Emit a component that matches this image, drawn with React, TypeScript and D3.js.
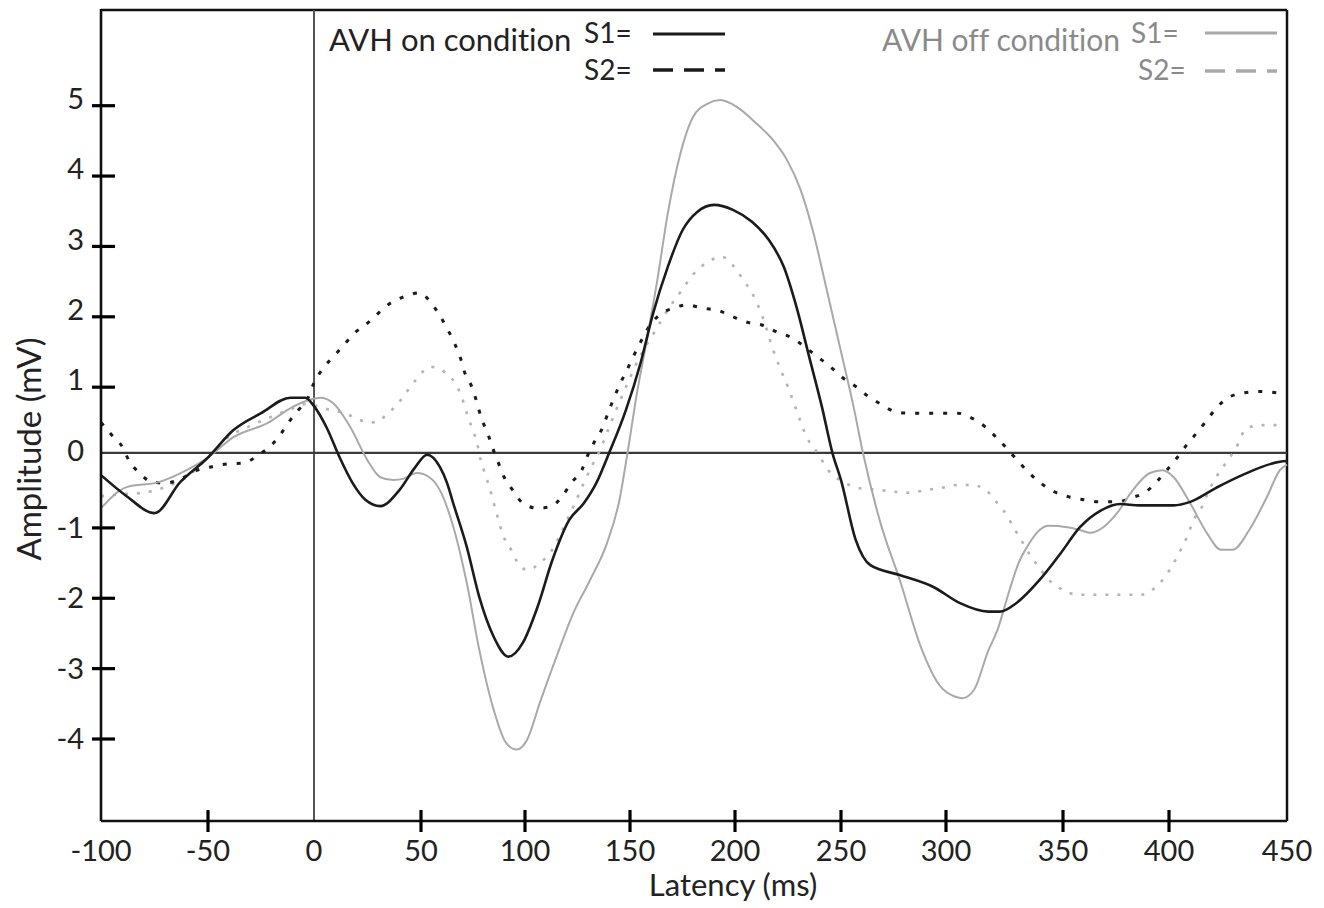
import React from "react";
import * as d3 from "d3";

// ---- data (latency ms, amplitude mV) ----
const onS1: [number, number][] = [
  [-100, -0.25], [-88, -0.55], [-75, -0.79], [-63, -0.35], [-50, 0.0], [-38, 0.39], [-25, 0.63],
  [-11, 0.85], [-4, 0.85], [0, 0.73], [6, 0.42], [12, 0.0], [18, -0.36], [24, -0.6], [31, -0.69],
  [40, -0.46], [47, -0.15], [53, 0.04], [59, -0.13], [62.5, -0.36], [65.5, -0.65], [72, -1.27],
  [78, -1.98], [85, -2.55], [92, -2.83], [99, -2.63], [106, -2.12], [113, -1.46], [121, -0.89],
  [128, -0.65], [134, -0.36], [140, 0.06], [148, 0.67], [155, 1.34], [161, 2.05], [168, 2.71],
  [175, 3.23], [182, 3.49], [190, 3.59], [199, 3.52], [208, 3.35], [216, 3.09], [223, 2.71],
  [229, 2.14], [235, 1.43], [241, 0.72], [246, 0.06], [250, -0.32], [257, -1.17], [264, -1.53],
  [278, -1.67], [294, -1.84], [306, -2.07], [318, -2.19], [323, -2.19], [330, -2.07], [340, -1.74],
  [349, -1.36], [358, -0.99], [368, -0.75], [377, -0.66], [386, -0.68], [402, -0.68], [409, -0.63],
  [420, -0.43], [431, -0.25], [447, -0.06], [450, -0.05],
];

const onS2: [number, number][] = [
  [-100, 0.5], [-95, 0.32], [-90, 0.15], [-87, -0.04], [-82, -0.22], [-76, -0.35], [-69, -0.36],
  [-62, -0.29], [-55, -0.18], [-48, -0.13], [-41, -0.09], [-33.5, -0.08], [-26, 0.04], [-21, 0.15],
  [-16, 0.32], [-12, 0.5], [-7.5, 0.67], [-3.3, 0.82], [0, 1.06], [4, 1.26], [9, 1.43], [14, 1.6],
  [19, 1.77], [25, 1.91], [30, 2.05], [35.5, 2.19], [41.5, 2.28], [49.5, 2.34], [55, 2.19],
  [59, 2.02], [63, 1.81], [66, 1.63], [69, 1.41], [71, 1.21], [74.5, 1.0], [77, 0.77], [79, 0.56],
  [82, 0.35], [84.5, 0.13], [87, -0.06], [90, -0.28], [94, -0.46], [99, -0.65], [106, -0.72],
  [112, -0.7], [117.5, -0.56], [122, -0.36], [127, -0.18], [130, 0.04], [133, 0.22], [137, 0.43],
  [139.5, 0.63], [142, 0.82], [145, 1.03], [148.5, 1.24], [151.5, 1.43], [155, 1.64], [160, 1.9],
  [165, 2.05], [170.5, 2.12], [177, 2.17], [185, 2.12], [192, 2.09], [199, 2.0], [206, 1.92],
  [213, 1.88], [220, 1.78], [227, 1.7], [233, 1.57], [239, 1.43], [245, 1.29], [251, 1.13],
  [257.5, 1.0], [262, 0.89], [269.5, 0.75], [276, 0.65], [283, 0.63], [291, 0.63], [298, 0.63],
  [305, 0.63], [311, 0.56], [317, 0.43], [322, 0.27], [326.5, 0.11], [331, -0.06], [335, -0.2],
  [340, -0.35], [346.5, -0.49], [353, -0.56], [360, -0.6], [367.5, -0.63], [375.5, -0.63],
  [382.5, -0.57], [389, -0.49], [394, -0.35], [399, -0.18], [403.5, 0.0], [407.5, 0.18], [412, 0.36],
  [416, 0.53], [420, 0.7], [425, 0.85], [432, 0.92], [438.5, 0.94], [446, 0.92],
];

const offS1: [number, number][] = [
  [-100, -0.72], [-88, -0.42], [-73, -0.35], [-60, -0.18], [-50, 0.0], [-38, 0.29], [-22, 0.49],
  [-10, 0.72], [-2, 0.82], [3, 0.85], [9, 0.77], [17, 0.43], [25, -0.04], [31, -0.28], [37, -0.32],
  [42, -0.3], [48, -0.22], [54, -0.28], [59, -0.46], [65, -0.93], [72, -1.78], [78, -2.73],
  [85, -3.59], [91, -4.06], [96, -4.15], [101, -4.01], [107, -3.49], [115, -2.83], [123, -2.21],
  [131, -1.74], [139, -1.22], [145, -0.6], [149, 0.1], [153, 0.86], [158, 1.67], [163, 2.52],
  [168, 3.47], [174, 4.32], [180, 4.84], [187, 5.03], [193, 5.08], [201, 4.98], [210, 4.75],
  [218, 4.51], [224.5, 4.23], [231, 3.8], [237, 3.19], [243, 2.42], [249.5, 1.57], [256, 0.72],
  [260.5, 0.06], [269, -0.95], [278, -1.74], [288, -2.69], [297, -3.24],
  [304, -3.4], [307, -3.42], [312, -3.3], [318, -2.75], [322, -2.45], [327, -1.9], [331, -1.5],
  [335, -1.25], [340, -1.03], [344, -0.97], [352, -0.99], [358, -1.03], [363, -1.07], [369, -0.99],
  [375.5, -0.79], [383, -0.46], [391, -0.22], [397, -0.18], [402, -0.28], [409, -0.65],
  [416, -1.07], [422, -1.31], [427, -1.31], [434, -1.03], [441.5, -0.56], [447, -0.18], [450, -0.1],
];

const offS2: [number, number][] = [
  [-100, -0.55], [-90, -0.52], [-80, -0.5], [-70, -0.42], [-60, -0.28], [-50, 0.0], [-40, 0.3],
  [-30, 0.45], [-20, 0.58], [-10, 0.7], [-4, 0.76], [0, 0.74], [7, 0.68], [14.5, 0.63], [21.5, 0.53],
  [28.5, 0.5], [34.6, 0.63], [39.3, 0.77], [44, 0.96], [48.6, 1.14], [54.3, 1.29], [61.5, 1.21],
  [66.3, 1.06], [69.7, 0.85], [72, 0.63], [74.5, 0.42], [77, 0.2], [78.4, 0.0], [81, -0.25],
  [83, -0.43], [85, -0.65], [87, -0.86], [89, -1.07], [93.3, -1.31], [96.2, -1.48], [101.4, -1.6],
  [107, -1.5], [113, -1.31], [116.7, -1.1], [120, -0.89], [123, -0.7], [126, -0.5], [128.6, -0.32],
  [132, -0.11], [135, 0.06], [141, 0.5], [148, 1.0], [155, 1.45], [162, 1.8], [168, 2.1],
  [174, 2.35], [180, 2.6], [187, 2.78], [194, 2.85], [199, 2.73], [204, 2.52], [208, 2.34],
  [213, 2.0], [218, 1.53], [221, 1.29], [225, 1.0], [229, 0.67], [234, 0.28], [239, 0.06],
  [244, -0.18], [252, -0.36], [258, -0.43], [268, -0.46], [283, -0.5], [291, -0.46], [298, -0.43],
  [305, -0.39], [311, -0.39], [318, -0.49], [322, -0.65], [326, -0.82], [329, -1.0], [333, -1.22],
  [336, -1.39], [340, -1.57], [344, -1.74], [350, -1.88], [357, -1.95], [365, -1.95], [372, -1.95],
  [379, -1.95], [387, -1.95], [393, -1.86], [398, -1.7], [402, -1.5], [405, -1.31], [408, -1.1],
  [410, -0.92], [414, -0.7], [417, -0.46], [420, -0.28], [424, -0.08], [428, 0.11], [433, 0.42],
  [440, 0.46], [446, 0.46],
];

const X_TICKS = [-100, -50, 0, 50, 100, 150, 200, 250, 300, 350, 400, 450];
const Y_TICKS = [5, 4, 3, 2, 1, 0, -1, -2, -3, -4];
const X_LABEL = "Latency (ms)";
const Y_LABEL = "Amplitude (mV)";
const LEGEND_ON = "AVH on condition";
const LEGEND_OFF = "AVH off condition";

// ---- layout ----
const W = 1324;
const H = 908;
const LEFT = 101;
const RIGHT = 1287;
const TOP = 10;
const BOTTOM = 821;
// the source figure's x tick marks are not evenly spaced; follow them
const X_TICK_PX = [101, 208, 314, 421, 525, 630, 735, 841, 946, 1063, 1169, 1287];
const BASELINE_MV = 0.065; // drawn zero line sits slightly above the 0 tick position

const FONT = "Lato, 'Open Sans', sans-serif";
const BLACK = "#1b1b1b";
const GREY = "#a9a9a9";
const GREY_TEXT = "#8a8a8a";

export default function App() {
  const x = d3.scaleLinear().domain(X_TICKS).range(X_TICK_PX);
  const y = d3.scaleLinear().domain([-4, 5]).range([739, 105.7]);

  const line = d3
    .line<[number, number]>()
    .x((d) => x(d[0]))
    .y((d) => y(d[1]))
    .curve(d3.curveMonotoneX);

  const y0 = y(BASELINE_MV);

  return (
    <svg
      width={W}
      height={H}
      style={{ position: "absolute", left: 0, top: 0, background: "#fff", fontVariantLigatures: "none" }}
      fontFamily={FONT}
    >
      <rect x={0} y={0} width={W} height={H} fill="#fff" />

      {/* frame */}
      <line x1={LEFT} x2={RIGHT} y1={TOP} y2={TOP} stroke="#111" strokeWidth={2.5} />
      <line x1={RIGHT} x2={RIGHT} y1={TOP} y2={BOTTOM} stroke="#111" strokeWidth={2.5} />

      {/* reference lines */}
      <line x1={x(0)} x2={x(0)} y1={TOP} y2={BOTTOM} stroke="#555" strokeWidth={2} />
      <line x1={LEFT} x2={RIGHT} y1={y0} y2={y0} stroke="#3a3a3a" strokeWidth={2.2} />

      {/* curves */}
      <path d={line(offS2) || ""} fill="none" stroke="#b4b4b4" strokeWidth={2.6} strokeDasharray="3 9" />
      <path d={line(onS2) || ""} fill="none" stroke={BLACK} strokeWidth={3} strokeDasharray="4 10" />
      <path d={line(offS1) || ""} fill="none" stroke={GREY} strokeWidth={2} />
      <path d={line(onS1) || ""} fill="none" stroke={BLACK} strokeWidth={2.6} />

      {/* axes */}
      <line x1={LEFT} x2={LEFT} y1={TOP - 1} y2={BOTTOM} stroke="#111" strokeWidth={2.6} />
      <line x1={LEFT} x2={RIGHT} y1={BOTTOM} y2={BOTTOM} stroke="#111" strokeWidth={2.6} />

      {Y_TICKS.map((v) => (
        <g key={"y" + v}>
          {v !== 0 && (
            <line x1={LEFT - 9} x2={LEFT + 14} y1={y(v)} y2={y(v)} stroke="#000" strokeWidth={3.2} />
          )}
          <text
            x={84}
            y={y(v) + (v >= 0 ? -7 : 0)}
            dy="0.35em"
            textAnchor="end"
            fontSize={29}
            fill="#222"
          >
            {v}
          </text>
        </g>
      ))}

      {X_TICKS.map((v, i) => (
        <g key={"x" + v}>
          {i > 0 && i < X_TICKS.length - 1 && v !== 0 && (
            <line x1={x(v)} x2={x(v)} y1={BOTTOM - 11} y2={BOTTOM + 11} stroke="#000" strokeWidth={3.2} />
          )}
          <text x={x(v)} y={861} textAnchor="middle" fontSize={29} fill="#222">
            {v}
          </text>
        </g>
      ))}

      <text x={733} y={896} textAnchor="middle" fontSize={31} fill="#222">
        {X_LABEL}
      </text>
      <text
        transform={`translate(41, 449) rotate(-90)`}
        textAnchor="middle"
        fontSize={33}
        fill="#222"
      >
        {Y_LABEL}
      </text>

      {/* legend: on */}
      <text x={329} y={51} fontSize={31} fill="#222">
        {LEGEND_ON}
      </text>
      <text x={584} y={43} fontSize={28} fill="#222">S1=</text>
      <text x={584} y={80} fontSize={28} fill="#222">S2=</text>
      <line x1={653} x2={725} y1={34} y2={34} stroke={BLACK} strokeWidth={3.2} />
      <line x1={653} x2={725} y1={70} y2={70} stroke={BLACK} strokeWidth={3.6} strokeDasharray="20 11" />

      {/* legend: off */}
      <text x={882} y={51} fontSize={30} fill={GREY_TEXT}>
        {LEGEND_OFF}
      </text>
      <text x={1131} y={43} fontSize={28} fill={GREY_TEXT}>S1=</text>
      <text x={1138} y={80} fontSize={28} fill={GREY_TEXT}>S2=</text>
      <line x1={1205} x2={1277} y1={33} y2={33} stroke={GREY} strokeWidth={3} />
      <line x1={1205} x2={1277} y1={71} y2={71} stroke={GREY} strokeWidth={3.4} strokeDasharray="20 11" />
    </svg>
  );
}
